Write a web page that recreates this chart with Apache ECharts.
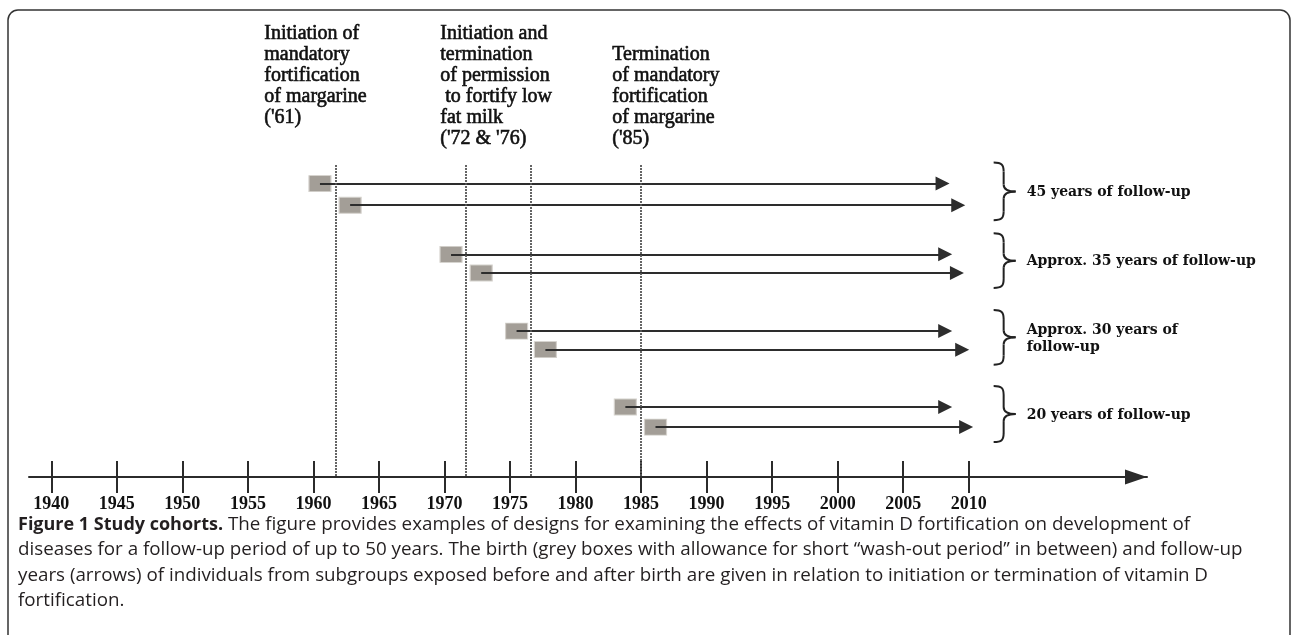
<!DOCTYPE html>
<html>
<head>
<meta charset="utf-8">
<title>Study cohorts</title>
<script src="https://cdn.jsdelivr.net/npm/echarts@6/dist/echarts.min.js"></script>
<style>
  html, body { margin: 0; padding: 0; background: #fff; }
  #main { width: 1292px; height: 635px; }
</style>
</head>
<body>
<div id="main"></div>
<script>
// birth year of each cohort (grey box) and end of follow-up (arrow tip)
var birthYears = [1960.5, 1962.8, 1970.5, 1972.8, 1975.5, 1977.7, 1983.8, 1986.1];
var endYears = [2008.0, 2009.2, 2008.2, 2009.1, 2008.2, 2009.5, 2008.2, 2009.8];
// vertical lane of each cohort (one unit ~ one group)
var lanes = [0, 0.29, 0.95, 1.2, 1.98, 2.23, 3, 3.27];
// cohorts belonging to each brace
var groups = [[0, 1], [2, 3], [4, 5], [6, 7]];
var groupLabels = ['45 years of follow-up', 'Approx. 35 years of follow-up', 'Approx. 30 years of\nfollow-up', '20 years of follow-up'];
var braceYear = 2011.9;
// fortification events (vertical lines)
var eventYears = [1961.7, 1971.6, 1976.6, 1985.0];
var eventTexts = [
  'Initiation of\nmandatory\nfortification\nof margarine\n(\'61)',
  'Initiation and\ntermination\nof permission\n to fortify low\nfat milk\n(\'72 & \'76)',
  'Termination\nof mandatory\nfortification\nof margarine\n(\'85)'
];
var tickYears = [1940, 1945, 1950, 1955, 1960, 1965, 1970, 1975, 1980, 1985, 1990, 1995, 2000, 2005, 2010];

var captionLines = [
  '{b|Figure 1 Study cohorts.} The figure provides examples of designs for examining the effects of vitamin D fortification on development of',
  'diseases for a follow-up period of up to 50 years. The birth (grey boxes with allowance for short \u201cwash-out period\u201d in between) and follow-up',
  'years (arrows) of individuals from subgroups exposed before and after birth are given in relation to initiation or termination of vitamin D',
  'fortification.'
];

var chart = echarts.init(document.getElementById('main'));

function renderBrace(params, api) {
  var i = params.dataIndex;
  var top = api.coord([api.value(0), api.value(1)]);
  var bot = api.coord([api.value(0), api.value(2)]);
  var x0 = top[0];
  var y0 = top[1] - 21;
  var y1 = bot[1] + 15;
  var ym = (y0 + y1) / 2;
  var xm = x0 + 10;
  var xt = x0 + 22;
  var st = { stroke: '#222', lineWidth: 2, fill: null };
  return {
    type: 'group',
    children: [
      { type: 'bezierCurve', shape: { x1: x0, y1: y0, cpx1: x0 + 8, cpy1: y0, cpx2: xm, cpy2: y0 + 2, x2: xm, y2: y0 + 9 }, style: st },
      { type: 'line', shape: { x1: xm, y1: y0 + 9, x2: xm, y2: ym - 7 }, style: st },
      { type: 'bezierCurve', shape: { x1: xm, y1: ym - 7, cpx1: xm, cpy1: ym - 1, cpx2: xt - 6, cpy2: ym, x2: xt, y2: ym }, style: st },
      { type: 'bezierCurve', shape: { x1: xt, y1: ym, cpx1: xt - 6, cpy1: ym, cpx2: xm, cpy2: ym + 1, x2: xm, y2: ym + 7 }, style: st },
      { type: 'line', shape: { x1: xm, y1: ym + 7, x2: xm, y2: y1 - 9 }, style: st },
      { type: 'bezierCurve', shape: { x1: xm, y1: y1 - 9, cpx1: xm, cpy1: y1 - 2, cpx2: x0 + 8, cpy2: y1, x2: x0, y2: y1 }, style: st },
      {
        type: 'text',
        style: {
          text: groupLabels[i], x: xt + 11, y: ym + 1,
          verticalAlign: 'middle', fill: '#111',
          font: 'bold 14px "DejaVu Serif"', lineHeight: 17
        }
      }
    ]
  };
}

var eventLabelPos = [[264, 23], [440, 23], [612, 44]];

var option = {
  animation: false,
  backgroundColor: '#fff',
  grid: { left: 29, right: 145, top: 165, bottom: 158 },
  xAxis: [{
    type: 'value', min: 1938.3, max: 2023.6, position: 'bottom',
    axisLine: {
      show: true, onZero: false, symbol: ['none', 'triangle'], symbolSize: [15, 22], symbolOffset: [0, -11],
      lineStyle: { color: '#2b2b2b', width: 2 }
    },
    axisTick: { show: true, inside: false, length: 16, customValues: tickYears, lineStyle: { color: '#2b2b2b', width: 2 } },
    axisLabel: {
      customValues: tickYears, margin: 18,
      formatter: function (v) { return String(v); },
      fontFamily: 'Liberation Serif', fontWeight: 'bold', fontSize: 18, color: '#111'
    },
    splitLine: { show: false }
  }, {
    type: 'value', min: 1938.3, max: 2023.6, position: 'bottom',
    axisLine: { show: false, onZero: false },
    axisTick: { show: true, inside: true, length: 16, customValues: tickYears, lineStyle: { color: '#2b2b2b', width: 2 } },
    axisLabel: { show: false },
    splitLine: { show: false }
  }],
  yAxis: { type: 'value', min: -0.25, max: 3.94, inverse: true, show: false },
  series: [{
    type: 'scatter',
    z: 2,
    symbol: 'rect',
    symbolSize: [22, 16],
    itemStyle: { color: '#a39e97', borderColor: '#d4d1cc', borderWidth: 1, opacity: 1 },
    data: birthYears.map(function (b, i) { return [b, lanes[i]]; }),
    markLine: {
      silent: true, symbol: 'none', label: { show: false },
      lineStyle: { color: '#555', width: 1.8, type: [2, 1] },
      data: eventYears.map(function (y) { return { xAxis: y }; })
    }
  }, {
    type: 'lines',
    coordinateSystem: 'cartesian2d',
    z: 3,
    symbol: ['none', 'triangle'],
    symbolSize: [9, 14],
    lineStyle: { color: '#2d2d2d', width: 2, opacity: 1 },
    data: birthYears.map(function (b, i) {
      return { coords: [[b, lanes[i]], [endYears[i], lanes[i]]] };
    })
  }, {
    type: 'custom',
    renderItem: renderBrace,
    data: groups.map(function (g) { return [braceYear, lanes[g[0]], lanes[g[1]]]; })
  }],
  graphic: [{
    type: 'rect', silent: true,
    shape: { x: 8, y: 10, width: 1282, height: 700, r: 10 },
    style: { fill: null, stroke: '#333', lineWidth: 1.5 }
  }].concat(eventTexts.map(function (t, i) {
    return {
      type: 'text', left: eventLabelPos[i][0], top: eventLabelPos[i][1],
      style: {
        text: t, fill: '#111', stroke: '#111', lineWidth: 0.6,
        font: '20px "Liberation Serif"', lineHeight: 21
      }
    };
  })).concat([{
    type: 'text', left: 18, top: 512,
    style: {
      text: captionLines.join('\n'),
      fill: '#231f20', font: '18.8px "Open Sans"', lineHeight: 25.3,
      rich: {
        b: { fontWeight: 'bold', fontSize: 18, fontFamily: 'Open Sans', fill: '#231f20', lineHeight: 25.3 }
      }
    }
  }])
};

chart.setOption(option);
</script>
</body>
</html>
